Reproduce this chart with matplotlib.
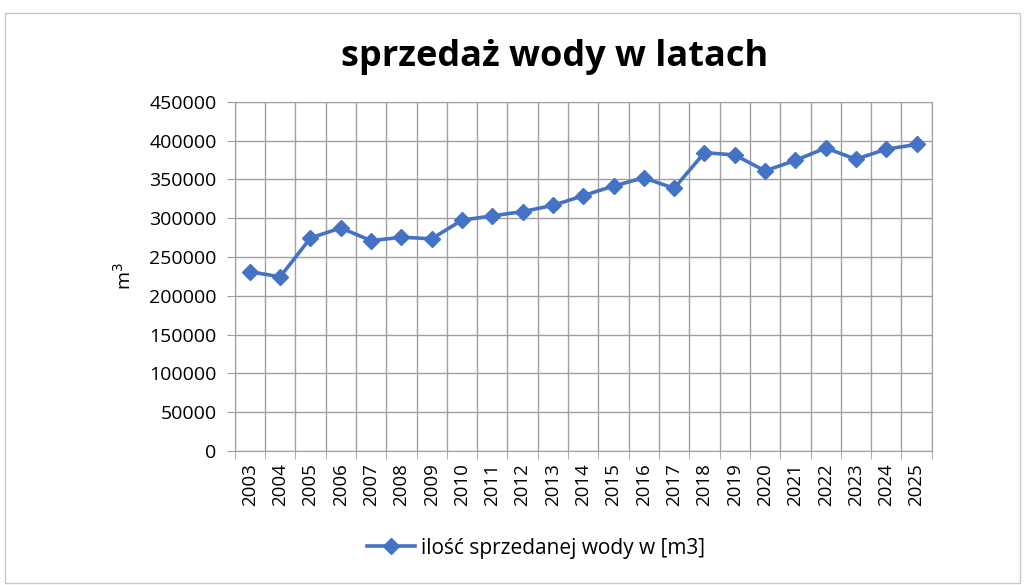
import numpy as np
import matplotlib.pyplot as plt
from matplotlib.ticker import MultipleLocator

plt.rcParams['font.family'] = ['Open Sans', 'DejaVu Sans']

years = [str(y) for y in range(2003, 2026)]
sales = [231000, 224500, 274500, 287500, 271000, 275500, 273500, 297500,
         303000, 308500, 316500, 329000, 341500, 352000, 338500, 384500,
         381500, 361000, 374500, 390500, 376000, 389000, 395000]

fig = plt.figure(figsize=(10.25, 5.85), dpi=100)
ax = fig.add_axes([0.229, 0.229, 0.680, 0.597])

x = np.arange(len(years))
ax.plot(x, sales, color='#4472C4', lw=2.6, marker='D', ms=8,
        label='ilość sprzedanej wody w [m3]')

ax.set_xlim(-0.5, len(years) - 0.5)
ax.set_ylim(0, 450000)
ax.yaxis.set_major_locator(MultipleLocator(50000))
ax.set_xticks(x)
ax.set_xticklabels(years, rotation=90, fontsize=13.5)
ax.set_xticks(np.arange(-0.5, len(years)), minor=True)
ax.tick_params(axis='x', which='major', length=0, pad=9)
ax.tick_params(axis='x', which='minor', length=6, color='#a0a0a0')
ax.tick_params(axis='y', length=6, color='#a0a0a0', labelsize=14, pad=7)
ax.grid(True, which='minor', axis='x', color='#a0a0a0', lw=1)
ax.grid(True, which='major', axis='y', color='#a0a0a0', lw=1)
ax.set_axisbelow(True)
for s in ax.spines.values():
    s.set_color('#a0a0a0')

ax.set_ylabel('m$^3$', fontsize=14, labelpad=10)
fig.text(0.541, 0.903, 'sprzedaż wody w latach', ha='center', va='center',
         fontsize=26, fontweight='bold')

fig.legend(loc='center', bbox_to_anchor=(0.523, 0.063), frameon=False,
           fontsize=15, handlelength=2.3, handletextpad=0.3)

# outer chart border
fig.patches.append(plt.Rectangle((0.005, 0.003), 0.99, 0.975, transform=fig.transFigure,
                                 fill=False, edgecolor='#c8c8c8', lw=1))

fig.savefig('out.png', dpi=100)
